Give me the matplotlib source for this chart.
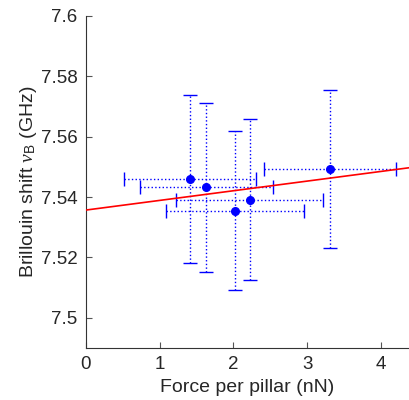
# Brillouin shift vs force per pillar, with linear fit
import matplotlib.pyplot as plt
import numpy as np

plt.rcParams['font.family'] = ['Liberation Sans', 'DejaVu Sans']
plt.rcParams['mathtext.fontset'] = 'custom'
plt.rcParams['mathtext.it'] = 'Liberation Serif:italic'
plt.rcParams['mathtext.rm'] = 'Liberation Sans'

# measured points
force_nN = [1.41, 1.63, 2.02, 2.22, 3.31]
force_err = [0.89, 0.90, 0.94, 1.00, 0.90]
shift_GHz = [7.5460, 7.5433, 7.5355, 7.5392, 7.5492]
shift_err = [0.0278, 0.0280, 0.0263, 0.0266, 0.0262]

# linear fit
fit_intercept = 7.5357
fit_slope = 0.0032

fig = plt.figure(figsize=(4.09, 4.0), dpi=100)
ax = fig.add_axes([0.21, 0.13, 0.79, 0.83])

xfit = np.array([0.0, 4.38])
ax.plot(xfit, fit_intercept + fit_slope * xfit, color='red', linewidth=1.2, zorder=3)

eb = ax.errorbar(force_nN, shift_GHz, xerr=force_err, yerr=shift_err,
                 fmt='o', color='blue', markersize=5.5, elinewidth=1.0,
                 capsize=5, capthick=1.0, zorder=2)
for col in eb[2]:
  col.set_linestyle(':')

ax.set_xlim(0, 4.38)
ax.set_ylim(7.49, 7.6)
ax.set_xticks([0, 1, 2, 3, 4])
ax.set_yticks([7.5, 7.52, 7.54, 7.56, 7.58, 7.6])
ax.set_yticklabels(['7.5', '7.52', '7.54', '7.56', '7.58', '7.6'])
ax.tick_params(direction='in', labelsize=13.5, length=4, pad=6,
               color='#555555', labelcolor='#262626')
ax.spines['top'].set_visible(False)
ax.spines['right'].set_visible(False)
for s in ['left', 'bottom']:
  ax.spines[s].set_color('#333333')

ax.set_xlabel('Force per pillar (nN)', fontsize=14, color='#262626', labelpad=4)
ax.set_ylabel(r'Brillouin shift $\nu_{\rm B}$ (GHz)', fontsize=14, color='#262626', labelpad=1)

fig.savefig('out.png', dpi=100)
